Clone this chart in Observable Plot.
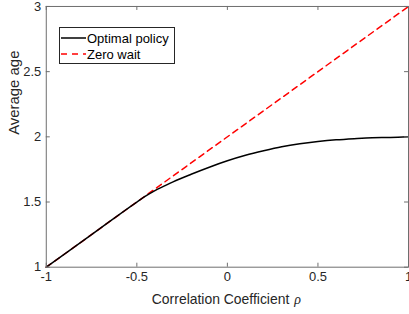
<!DOCTYPE html>
<html>
<head>
<meta charset="utf-8">
<script src="https://cdn.jsdelivr.net/npm/d3@7"></script>
<script src="https://cdn.jsdelivr.net/npm/@observablehq/plot@0.6"></script>
<style>
  html, body { margin: 0; padding: 0; background: white; overflow: hidden; }
  #wrap { position: relative; width: 409px; height: 314px; overflow: hidden; }
  #legend { position: absolute; left: 59px; top: 27px; width: 114px; height: 35px;
    border: 1px solid #262626; background: white;
    font-family: "Liberation Sans", Arial, sans-serif; font-size: 13px; color: #000; }
  .row { position: absolute; left: 0; height: 16px; display: flex; align-items: center; }
  .row svg { margin-left: 1px; margin-right: 1px; }
</style>
</head>
<body>
<div id="wrap"></div>
<script>
// Data
const rhoOpt = [-1, -0.75, -0.5, -0.45, -0.4, -0.35, -0.3, -0.2, -0.1, 0, 0.1, 0.2, 0.3, 0.4, 0.5, 0.6, 0.7, 0.8, 0.9, 1];
const ageOpt = [1, 1.25, 1.5, 1.547, 1.588, 1.622, 1.655, 1.713, 1.767, 1.816, 1.858, 1.893, 1.924, 1.947, 1.964, 1.977, 1.986, 1.993, 1.995, 2.0];
const rhoZero = [-1, 1];
const ageZero = [1, 3];
const xTicks = [-1, -0.5, 0, 0.5, 1];
const yTicks = [1, 1.5, 2, 2.5, 3];
const seriesNames = ["Optimal policy", "Zero wait"];
const seriesColors = ["#000000", "#ff0000"];

const optData = rhoOpt.map((r, i) => ({rho: r, age: ageOpt[i]}));
const zeroData = rhoZero.map((r, i) => ({rho: r, age: ageZero[i]}));

const W = 411, H = 314, mL = 46, mR = 1, mT = 6, mB = 46;
const pw = W - mL - mR, ph = H - mT - mB, tk = 4;
const axisColor = "#6e6e6e";
const FONT = "'Liberation Sans', Arial, sans-serif";

const chart = Plot.plot({
  width: W, height: H,
  marginLeft: mL, marginRight: mR, marginTop: mT, marginBottom: mB,
  style: {fontFamily: FONT, fontSize: "13px", color: "#262626", background: "white", overflow: "visible"},
  x: {domain: [-1, 1]},
  y: {domain: [1, 3]},
  marks: [
    Plot.line(zeroData, {x: "rho", y: "age", stroke: seriesColors[1], strokeWidth: 1.5, strokeDasharray: "6,4.5"}),
    Plot.line(optData, {x: "rho", y: "age", stroke: seriesColors[0], strokeWidth: 1.5, curve: "monotone-x"}),
    Plot.frame({stroke: axisColor, strokeWidth: 1}),
    Plot.tickX(xTicks, {x: d => d, insetTop: ph - tk, stroke: axisColor}),
    Plot.tickX(xTicks, {x: d => d, insetBottom: ph - tk, stroke: axisColor}),
    Plot.tickY(yTicks, {y: d => d, insetRight: pw - tk, stroke: axisColor}),
    Plot.tickY(yTicks, {y: d => d, insetLeft: pw - tk, stroke: axisColor}),
    Plot.axisX(xTicks, {tickSize: 0, tickPadding: 5, tickFormat: d => String(d), label: null, fontSize: 13}),
    Plot.axisY(yTicks, {tickSize: 0, tickPadding: 5, tickFormat: d => String(d), label: null, fontSize: 13}),
    Plot.text(["Correlation Coefficient"], {frameAnchor: "bottom", dy: 37, dx: -1, fontSize: 14, fill: "#262626", lineAnchor: "bottom", fontFamily: FONT}),
    Plot.text(["Average age"], {frameAnchor: "left", dx: -38, dy: -2, rotate: -90, fontSize: 15, fill: "#262626", lineAnchor: "top", fontFamily: FONT})
  ]
});

// append italic rho to the x label
d3.select(chart).selectAll("text").each(function() {
  if (this.textContent === "Correlation Coefficient") {
    d3.select(this).append("tspan").attr("font-style", "italic").attr("font-family", "'Liberation Serif', serif").attr("dx", 5).text("ρ");
  }
});

const wrap = document.getElementById("wrap");
wrap.appendChild(chart);

// Legend
const legend = document.createElement("div");
legend.id = "legend";
seriesNames.forEach((name, i) => {
  const row = document.createElement("div");
  row.className = "row";
  row.style.top = (i === 0 ? 2 : 18) + "px";
  const dash = i === 1 ? 'stroke-dasharray="6,5"' : "";
  row.innerHTML = `<svg width="25" height="6"><line x1="0" y1="3" x2="25" y2="3" stroke="${seriesColors[i]}" stroke-width="1.5" ${dash}/></svg><span>${name}</span>`;
  legend.appendChild(row);
});
wrap.appendChild(legend);
</script>
</body>
</html>
